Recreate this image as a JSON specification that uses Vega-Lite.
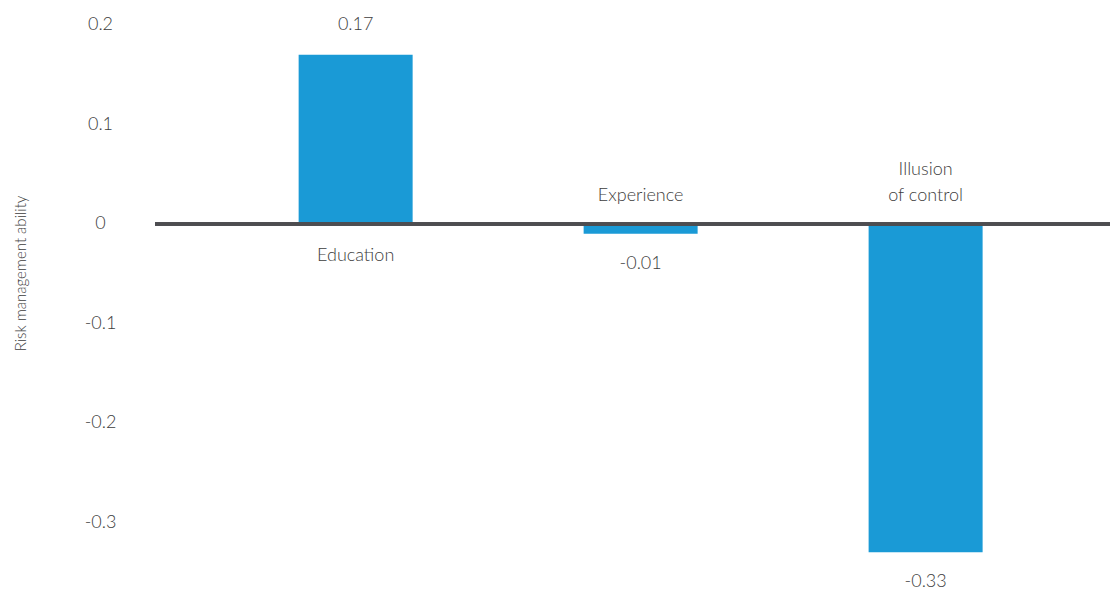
{
  "$schema": "https://vega.github.io/schema/vega-lite/v6.json",
  "autosize": "none",
  "padding": {"left": 155, "top": 0, "right": 0, "bottom": 0},
  "width": 955,
  "height": 590,
  "background": "white",
  "config": {
    "view": {"stroke": null},
    "font": "Lato",
    "text": {"font": "Lato", "fontWeight": 300, "fontSize": 18, "fill": "#3d3d3d"}
  },
  "data": {
    "values": [
      {"factor": "Education", "value": 0.17, "label": "Education", "valueText": "0.17"},
      {"factor": "Experience", "value": -0.01, "label": "Experience", "valueText": "-0.01"},
      {"factor": "Illusion of control", "value": -0.33, "label": "Illusion\nof control", "valueText": "-0.33"}
    ]
  },
  "encoding": {
    "x": {
      "field": "factor",
      "type": "nominal",
      "sort": null,
      "scale": {"paddingInner": 0.6, "paddingOuter": 0.4755, "align": 0.53},
      "axis": null
    }
  },
  "layer": [
    {
      "mark": {"type": "bar", "color": "#1a9ad6"},
      "encoding": {
        "y": {
          "field": "value",
          "type": "quantitative",
          "scale": {"domain": [-0.368, 0.2251], "nice": false, "zero": false},
          "axis": {
            "values": [-0.3, -0.2, -0.1, 0, 0.1, 0.2],
            "labelExpr": "replace(format(datum.value, '.1~f'), '\u2212', '-')",
            "grid": false,
            "domain": false,
            "ticks": false,
            "labelPadding": 55,
            "labelAlign": "center",
            "labelFont": "Lato",
            "labelFontWeight": 300,
            "labelFontSize": 18,
            "labelColor": "#3d3d3d",
            "title": "Risk management ability",
            "titleFont": "Lato",
            "titleFontWeight": 300,
            "titleFontSize": 15,
            "titleColor": "#3d3d3d",
            "titleX": -135,
            "titleY": 273,
            "titleAngle": -90,
            "titleAlign": "center",
            "titleBaseline": "middle"
          }
        }
      }
    },
    {
      "mark": {"type": "rule", "color": "#4d4d50", "strokeWidth": 3.5},
      "encoding": {
        "y": {"datum": 0, "type": "quantitative"},
        "x": {"value": 0},
        "x2": {"value": 955}
      }
    },
    {
      "transform": [{"filter": "datum.value >= 0"}],
      "mark": {"type": "text", "baseline": "middle", "dy": 32},
      "encoding": {
        "y": {"datum": 0, "type": "quantitative"},
        "text": {"field": "label"}
      }
    },
    {
      "transform": [{"filter": "datum.value < 0 && datum.factor == 'Experience'"}],
      "mark": {"type": "text", "baseline": "middle", "dy": -28},
      "encoding": {
        "y": {"datum": 0, "type": "quantitative"},
        "text": {"field": "label"}
      }
    },
    {
      "transform": [{"filter": "datum.factor == 'Illusion of control'"}],
      "mark": {"type": "text", "baseline": "middle", "dy": -54, "lineBreak": "\n", "lineHeight": 26},
      "encoding": {
        "y": {"datum": 0, "type": "quantitative"},
        "text": {"field": "label"}
      }
    },
    {
      "transform": [{"filter": "datum.value >= 0"}],
      "mark": {"type": "text", "baseline": "middle", "dy": -30},
      "encoding": {
        "y": {"field": "value", "type": "quantitative"},
        "text": {"field": "valueText"}
      }
    },
    {
      "transform": [{"filter": "datum.value < 0"}],
      "mark": {"type": "text", "baseline": "middle", "dy": 30},
      "encoding": {
        "y": {"field": "value", "type": "quantitative"},
        "text": {"field": "valueText"}
      }
    }
  ]
}
